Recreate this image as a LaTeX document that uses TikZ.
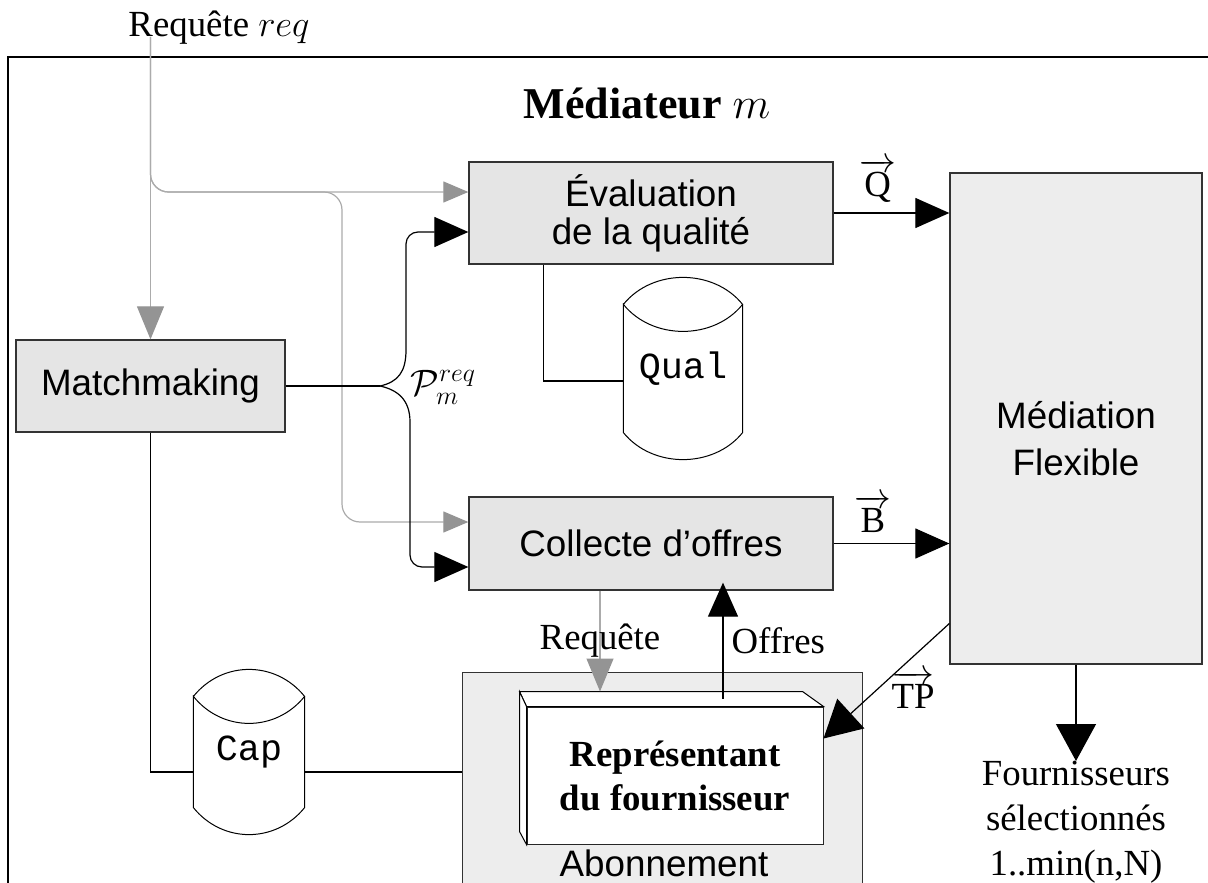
\RequirePackage{fix-cm}
\documentclass[tikz,border=0pt]{standalone}
\usepackage{amsmath,amssymb}
\usepackage{fontspec}
\setmainfont{Liberation Serif}
\setsansfont{Liberation Sans}
\setmonofont{Liberation Mono}
\usetikzlibrary{calc,positioning,arrows.meta}

\tikzset{
  procbox/.style={draw=black!80, line width=1.3pt, fill=black!10, align=center, font=\sffamily},
  palebox/.style={procbox, fill=black!7},
  dbnode/.style={font=\ttfamily, inner sep=0pt}
}

\begin{document}
\begin{tikzpicture}[x=1pt, y=-1pt, line width=1.2pt,
    link/.style={draw=black},
    flow/.style={link, -{Triangle[length=34pt, width=30pt]}},
    bigflow/.style={link, -{Triangle[length=37pt, width=40pt]}},
    ask/.style={draw=black!33, -{Triangle[length=25pt, width=21pt, color=black!42]}},
    askv/.style={draw=black!33, -{Triangle[length=33pt, width=27pt, color=black!42]}}]
  \fontsize{36.8}{44}\selectfont
  \useasboundingbox (0,0) rectangle (1208,883);
  \clip (0,0) rectangle (1208,883);

  % the mediator
  \draw[line width=1.6pt] (8,57) rectangle (1260,940);
  \node[font=\bfseries\fontsize{44}{50}\selectfont] (title) at (647,103) {Médiateur $m$};
  \node (req) at (219,28) {Requête $req$};

  % components
  \node[procbox, minimum width=269pt, minimum height=92pt] (match) at (150.5,386) {Matchmaking};
  \node[procbox, minimum width=364pt, minimum height=92pt,
        font=\sffamily\fontsize{36.8}{38}\selectfont] (eval) at (651,213) {Évaluation\\de la qualité};
  \node[procbox, minimum width=364pt, minimum height=93pt] (coll) at (651,543.5) {Collecte d’offres};
  \node[palebox, minimum width=252pt, minimum height=491pt] (med) at (1076,418.5) {};
  \node[font=\sffamily\fontsize{36.8}{47}\selectfont, align=center] (medtext)
    at ([yshift=-20pt]med.center) {Médiation\\Flexible};
  \node[palebox, minimum width=400pt, minimum height=260pt, anchor=north west] (subs) at (462,672) {};
  \node[font=\sffamily] (substext) at (664,863) {Abonnement};

  % provider representative
  \node[font=\bfseries, fill=white, draw=black!85, line width=1pt, align=center,
        minimum width=296pt, minimum height=137pt] (rep) at (675,775.5) {Représentant\\du fournisseur};
  \draw[line width=1pt, fill=white] (rep.north west) -- ++(-7,-15)
    -- ([shift={(-21,-15)}]rep.north east) -- (rep.north east) -- cycle;
  \draw[line width=1pt, fill=white] (rep.north west) -- ++(-7,-15) -- ++(0,140) -- (rep.south west) -- cycle;
  \coordinate (repback) at ([shift={(-7,-15)}]rep.north west);

  % databases
  \node[dbnode, minimum width=118pt, minimum height=127pt] (qual) at (683,368.5) {Qual};
  \node[dbnode, minimum width=110pt, minimum height=110pt] (cap) at (249,752) {Cap};
  \foreach \db in {qual,cap}
    \draw[line width=1pt] (\db.north west) .. controls +(29,-36) and +(-29,-36) .. (\db.north east)
      .. controls +(-29,36) and +(29,36) .. (\db.north west)
      -- (\db.south west) .. controls +(29,36) and +(-29,36) .. (\db.south east) -- (\db.north east);

  % incoming request
  \coordinate (reqfoot) at (req.base -| match.north);
  \coordinate (split) at (342,192);
  \draw[askv] (reqfoot) -- (match.north);
  \draw[ask, rounded corners=18pt] (reqfoot) |- ([yshift=21pt]eval.west);
  \draw[ask, rounded corners=18pt] (reqfoot) |- (split) |- ([yshift=21.5pt]coll.west);

  % candidate providers
  \coordinate (brace) at (380,386);
  \draw[link] (match.east) -- (brace);
  \draw[flow] (brace) .. controls +(18,-4) and +(0,22) .. (406,350)
    [rounded corners=12pt] |- ([yshift=-19pt]eval.west);
  \draw[flow] (brace) .. controls +(18,4) and +(0,-22) .. (410,422)
    [rounded corners=12pt] |- ([yshift=-23.5pt]coll.west);
  \node (plabel) at (443,387) {$\mathcal{P}_m^{req}$};

  % data links
  \draw[link] ([xshift=75pt]eval.south west) |- ([yshift=-12.5pt]qual.west);
  \draw[link] (match.south) |- ([yshift=-20pt]cap.west);
  \draw[link] ([yshift=-20pt]cap.east) -- ([yshift=-20pt]cap.east -| subs.west);

  % flows to the flexible mediation
  \draw[flow] (eval.east) -- (eval.east -| med.west)
    node[pos=.38, above=8pt, inner sep=2pt] {$\overrightarrow{\text{Q}}$};
  \draw[flow] (coll.east) -- (coll.east -| med.west)
    node[pos=.34, above=8pt, inner sep=2pt] {$\overrightarrow{\text{B}}$};
  \draw[bigflow] ([yshift=-205pt]med.west) -- ([yshift=37pt]rep.east);
  \node (tplbl) at (913,690) {$\overrightarrow{\text{TP}}$};

  % bids
  \draw[askv] ([xshift=-51pt]coll.south) -- ([xshift=-51pt]coll.south |- repback)
    node[midway, text=black] {Requête};
  \draw[flow] ([xshift=48pt,yshift=8pt]rep.north) -- ([xshift=48pt,yshift=8pt]rep.north |- coll.south)
    node[midway, right, inner sep=8pt] {Offres};

  % selection
  \node[align=center, anchor=north, inner sep=0pt, font=\fontsize{36.8}{45}\selectfont]
    (chosen) at (1076,761) {Fournisseurs\\sélectionnés\\1..min(n,N)};
  \draw[bigflow] (med.south) -- (chosen.north);
\end{tikzpicture}
\end{document}
